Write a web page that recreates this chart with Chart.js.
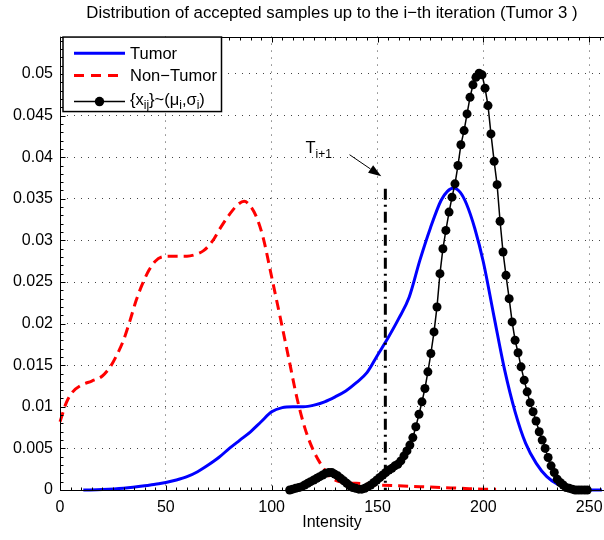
<!DOCTYPE html>
<html><head><meta charset="utf-8">
<script src="https://cdn.jsdelivr.net/npm/chart.js@4/dist/chart.umd.min.js"></script>
<style>html,body{margin:0;padding:0;background:#fff}canvas{display:block}</style>
</head><body>
<canvas id="c" width="604" height="540"></canvas>
<script>
const titleText = 'Distribution of accepted samples up to the i\u2212th iteration (Tumor 3 )';
const xAxisLabel = 'Intensity';
const xTicks = [0, 50, 100, 150, 200, 250];
const yTicks = [0, 0.005, 0.01, 0.015, 0.02, 0.025, 0.03, 0.035, 0.04, 0.045, 0.05];
const legendLabels = ['Tumor', 'Non\u2212Tumor', '{x_ij}~(\u03bc_i,\u03c3_i)'];

const tumorX = [11,20,30,40,45,50,55,60,65,70,75,80,85,90,95,100,105,110,115,120,125,130,135,140,145,150,155,160,165,170,175,180,183,186,189,192,196,200,205,210,215,220,225,230,235,240,245,250,256];
const tumorY = [0,0.00005,0.0002,0.0005,0.0007,0.0009,0.0012,0.0016,0.0022,0.0030,0.0039,0.0050,0.0060,0.0070,0.0082,0.0094,0.0099,0.0100,0.0100,0.0102,0.0106,0.0112,0.0119,0.0129,0.0141,0.0162,0.0183,0.0206,0.0232,0.0276,0.0315,0.0348,0.0359,0.0363,0.0358,0.0344,0.0314,0.0274,0.0209,0.0145,0.0094,0.0056,0.0032,0.0016,0.0007,0.0002,0.00005,0,0];

const nonTumorX = [0,3,6,10,15,20,24,27,30,33,36,39,42,45,48,52,56,60,64,68,72,76,80,84,87,90,93,96,100,104,108,112,116,120,124,128,132,136,140,150,160,170,180,190,200,206];
const nonTumorY = [0.0082,0.0105,0.0118,0.0126,0.0131,0.0137,0.0149,0.0163,0.0180,0.0203,0.0228,0.0248,0.0264,0.0275,0.0280,0.0281,0.0281,0.0281,0.0283,0.0288,0.0299,0.0316,0.0331,0.0343,0.0347,0.0341,0.0327,0.0303,0.0256,0.0208,0.0159,0.0110,0.0072,0.0046,0.0028,0.0015,0.0010,0.0008,0.0008,0.0006,0.0005,0.0004,0.0003,0.0002,0.0001,0.0001];

const sampleX = [108.5,109.9,111.3,112.8,114.2,115.6,117.0,118.4,119.9,121.3,122.7,124.1,125.5,127.0,128.4,129.8,131.2,132.6,134.1,135.5,136.9,138.3,139.7,141.2,142.6,144.0,145.4,146.8,148.3,149.7,151.1,152.5,153.9,155.4,156.8,158.2,159.6,161.0,162.5,163.9,165.3,166.7,168.1,169.6,171.0,172.4,173.8,175.2,176.7,178.1,179.5,180.9,182.3,183.8,185.2,186.6,188.0,189.4,190.9,192.3,193.7,195.1,196.5,198.0,199.4,200.8,202.2,203.6,205.1,206.5,207.9,209.3,210.7,212.2,213.6,215.0,216.4,217.8,219.3,220.7,222.1,223.5,224.9,226.4,227.8,229.2,230.6,232.0,233.5,234.9,236.3,237.7,239.1,240.6,242.0,243.4,244.8,246.2,247.7,249.1];
const sampleY = [0.0000,0.0001,0.0002,0.0003,0.0004,0.0006,0.0008,0.0010,0.0012,0.0014,0.0016,0.0018,0.0020,0.0021,0.0021,0.0019,0.0017,0.0014,0.0011,0.0008,0.0005,0.0003,0.0002,0.0001,0.0001,0.0002,0.0004,0.0006,0.0009,0.0012,0.0015,0.0018,0.0021,0.0024,0.0026,0.0029,0.0031,0.0035,0.0041,0.0047,0.0054,0.0063,0.0076,0.0091,0.0106,0.0122,0.0142,0.0164,0.0190,0.0220,0.0260,0.0290,0.0312,0.0334,0.0352,0.0368,0.0390,0.0415,0.0432,0.0452,0.0472,0.0487,0.0496,0.0501,0.0499,0.0483,0.0462,0.0428,0.0395,0.0367,0.0323,0.0286,0.0258,0.0230,0.0202,0.0180,0.0165,0.0148,0.0132,0.0118,0.0105,0.0094,0.0083,0.0070,0.0060,0.0050,0.0039,0.0029,0.0021,0.0013,0.0009,0.0006,0.0003,0.0002,0.0001,0.0000,0.0000,0.0000,0.0000,0.0000];

const thresholdX = [153.7, 153.7];
const thresholdY = [0.0362, 0];
const annotationLabel = ['T', 'i+1'];

const FONT = "'Liberation Sans', Arial, Helvetica, sans-serif";
Chart.defaults.font.family = FONT;
Chart.defaults.color = '#000';

const pts = (xs, ys) => xs.map((x, i) => ({x: x, y: ys[i]}));

function drawRich(ctx, parts, x, y, size) {
  let cx = x;
  for (const p of parts) {
    ctx.font = (p.sub ? Math.round(size * 0.72) : size) + 'px ' + FONT;
    ctx.fillText(p.t, cx, y + (p.sub ? size * 0.3 : 0));
    cx += ctx.measureText(p.t).width;
  }
}
function richParts(s) {
  const out = []; const re = /_([A-Za-z0-9+]+)/g; let last = 0, m;
  while ((m = re.exec(s))) { if (m.index > last) out.push({t: s.slice(last, m.index)}); out.push({t: m[1], sub: true}); last = re.lastIndex; }
  if (last < s.length) out.push({t: s.slice(last)});
  return out;
}

const decor = {
  id: 'decor',
  afterDraw(chart) {
    const ctx = chart.ctx, a = chart.chartArea, xs = chart.scales.x, ys = chart.scales.y;
    ctx.save();
    const L = Math.round(a.left) + 0.5, T = Math.round(a.top) + 0.5, B = Math.round(a.bottom) + 0.5, R = a.right + 2;
    ctx.strokeStyle = '#000'; ctx.lineWidth = 1; ctx.setLineDash([]);
    ctx.beginPath();
    ctx.moveTo(L, T); ctx.lineTo(R, T);
    ctx.moveTo(L, T); ctx.lineTo(L, B); ctx.lineTo(R, B);
    for (let v = 0; v <= xs.max; v += 5) {
      const p = Math.round(xs.getPixelForValue(v)) + 0.5;
      const len = (v % 50 === 0) ? 5 : 3;
      ctx.moveTo(p, B); ctx.lineTo(p, B - len);
      ctx.moveTo(p, T); ctx.lineTo(p, T + len);
    }
    for (let i = 0; i * 0.001 <= ys.max; i++) {
      const p = Math.round(ys.getPixelForValue(i * 0.001)) + 0.5;
      const len = (i % 5 === 0) ? 5 : 3;
      ctx.moveTo(L, p); ctx.lineTo(L + len, p);
    }
    ctx.stroke();

    // annotation arrow
    const x0 = xs.getPixelForValue(136.8), y0 = ys.getPixelForValue(0.0403);
    const x1 = xs.getPixelForValue(151.8), y1 = ys.getPixelForValue(0.0377);
    const ang = Math.atan2(y1 - y0, x1 - x0);
    const hl = 13, hw = 4.5;
    const bx = x1 - hl * Math.cos(ang), by = y1 - hl * Math.sin(ang);
    ctx.beginPath(); ctx.moveTo(x0, y0); ctx.lineTo(bx, by); ctx.stroke();
    ctx.fillStyle = '#000';
    ctx.beginPath();
    ctx.moveTo(x1, y1);
    ctx.lineTo(bx + hw * Math.sin(ang), by - hw * Math.cos(ang));
    ctx.lineTo(bx - hw * Math.sin(ang), by + hw * Math.cos(ang));
    ctx.closePath(); ctx.fill();
    ctx.textBaseline = 'alphabetic'; ctx.textAlign = 'left';
    const tx = xs.getPixelForValue(116.0), ty = ys.getPixelForValue(0.0405);
    drawRich(ctx, [{t: annotationLabel[0]}, {t: annotationLabel[1], sub: true}], tx, ty, 16.5);

    // legend
    const lx = a.left + 3, ly = a.top + 0.5, lw = 158.5, lh = 74.5;
    ctx.fillStyle = '#fff'; ctx.fillRect(lx, ly, lw, lh);
    ctx.strokeStyle = '#000'; ctx.lineWidth = 1.5; ctx.strokeRect(lx, ly, lw, lh);
    const rows = [ly + 16.2, ly + 38.5, ly + 64.5];
    const s0 = lx + 11, s1 = lx + 62, tX = lx + 67;
    ctx.lineCap = 'butt';
    ctx.lineWidth = 3; ctx.strokeStyle = '#0000ff'; ctx.setLineDash([]);
    ctx.beginPath(); ctx.moveTo(s0, rows[0]); ctx.lineTo(s1, rows[0]); ctx.stroke();
    ctx.strokeStyle = '#ff0000'; ctx.setLineDash([10, 7]);
    ctx.beginPath(); ctx.moveTo(s0, rows[1]); ctx.lineTo(s1, rows[1]); ctx.stroke();
    ctx.setLineDash([]); ctx.strokeStyle = '#000'; ctx.lineWidth = 1.5;
    ctx.beginPath(); ctx.moveTo(s0, rows[2]); ctx.lineTo(s1, rows[2]); ctx.stroke();
    ctx.fillStyle = '#000';
    ctx.beginPath(); ctx.arc((s0 + s1) / 2, rows[2], 4.7, 0, Math.PI * 2); ctx.fill();
    ctx.textBaseline = 'middle';
    ctx.font = '16.5px ' + FONT;
    ctx.fillText(legendLabels[0], tX, rows[0] + 1);
    ctx.fillText(legendLabels[1], tX, rows[1] + 1);
    drawRich(ctx, richParts(legendLabels[2]), tX, rows[2] - 1, 16.5);
    ctx.restore();
  }
};

const noPad = s => { s.paddingLeft = 0; s.paddingRight = 0; s.paddingTop = 0; s.paddingBottom = 0; };

new Chart(document.getElementById('c'), {
  type: 'line',
  data: {
    datasets: [
      { label: 'T', data: pts(thresholdX, thresholdY), borderColor: '#000', borderWidth: 3, borderDash: [11, 5, 2, 5], pointRadius: 0, order: 0, clip: false },
      { label: legendLabels[2], data: pts(sampleX, sampleY), borderColor: '#000', borderWidth: 1.5, pointRadius: 4.5, pointBackgroundColor: '#000', pointBorderColor: '#000', pointBorderWidth: 0, tension: 0, order: 1, clip: false },
      { label: legendLabels[0], data: pts(tumorX, tumorY), borderColor: '#0000ff', borderWidth: 3, pointRadius: 0, cubicInterpolationMode: 'monotone', order: 2, clip: false },
      { label: legendLabels[1], data: pts(nonTumorX, nonTumorY), borderColor: '#ff0000', borderWidth: 3, borderDash: [10, 6], pointRadius: 0, cubicInterpolationMode: 'monotone', order: 3, clip: false }
    ]
  },
  options: {
    responsive: false, animation: false, devicePixelRatio: 1,
    layout: { padding: 0, autoPadding: false },
    plugins: {
      legend: { display: false }, tooltip: { enabled: false },
      title: { display: true, text: titleText, fullSize: false, color: '#000', font: { size: 16.8, weight: 'normal', family: FONT }, padding: { top: 3.4, bottom: 13 } }
    },
    scales: {
      x: {
        type: 'linear', min: 0, max: 257,
        afterBuildTicks: s => { s.ticks = xTicks.map(v => ({value: v})); },
        afterFit: s => { s.height = 50; noPad(s); },
        ticks: { autoSkip: false, maxRotation: 0, padding: 8, color: '#000', font: { size: 16 } },
        grid: { drawTicks: false, color: '#444', lineWidth: 1 },
        border: { display: false, dash: [1, 6] },
        title: { display: true, text: xAxisLabel, color: '#000', font: { size: 16 }, padding: { top: 0, bottom: 8 } }
      },
      y: {
        type: 'linear', min: 0, max: 0.0545,
        afterBuildTicks: s => { s.ticks = yTicks.map(v => ({value: v})); },
        afterFit: s => { s.width = 60; noPad(s); },
        ticks: { autoSkip: false, padding: 7, color: '#000', font: { size: 16 }, callback: v => String(+v.toFixed(4)) },
        grid: { drawTicks: false, color: '#444', lineWidth: 1 },
        border: { display: false, dash: [1, 6] }
      }
    }
  },
  plugins: [decor]
});
</script>
</body></html>
